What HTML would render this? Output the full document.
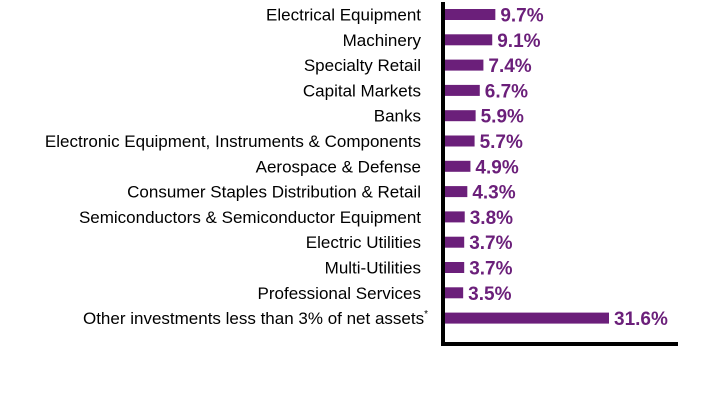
<!DOCTYPE html>
<html><head><meta charset="utf-8"><style>
body{margin:0;background:#fff;}
svg text{font-family:"Liberation Sans",Arial,sans-serif;}
</style></head><body>
<svg id="chart" width="708" height="408" xmlns="http://www.w3.org/2000/svg">
<g id="bars"></g>
<rect x="441" y="2" width="4" height="343" fill="#000"/>
<rect x="441" y="342" width="237" height="4" fill="#000"/>
</svg>
<script>
const categories=["Electrical Equipment","Machinery","Specialty Retail","Capital Markets","Banks","Electronic Equipment, Instruments & Components","Aerospace & Defense","Consumer Staples Distribution & Retail","Semiconductors & Semiconductor Equipment","Electric Utilities","Multi-Utilities","Professional Services","Other investments less than 3% of net assets"];
const values=[9.7,9.1,7.4,6.7,5.9,5.7,4.9,4.3,3.8,3.7,3.7,3.5,31.6];
const valueLabels=["9.7%","9.1%","7.4%","6.7%","5.9%","5.7%","4.9%","4.3%","3.8%","3.7%","3.7%","3.5%","31.6%"];
const x0=445, pxPer=5.19, y0=14.5, step=25.3, bh=11;
const xs=v=>x0+v*pxPer;
const ys=i=>y0+i*step;
const g=document.getElementById('bars');
const NS="http://www.w3.org/2000/svg";
categories.forEach((c,i)=>{
  const cy=ys(i);
  const r=document.createElementNS(NS,'rect');
  
  
  r.setAttribute('x',x0);r.setAttribute('y',cy-bh/2);
  r.setAttribute('width',xs(values[i])-x0);r.setAttribute('height',bh);
  r.setAttribute('fill','#6B1F7A');
  g.appendChild(r);
  const t=document.createElementNS(NS,'text');
  
  
  t.setAttribute('x',421);t.setAttribute('y',cy+6);
  t.setAttribute('text-anchor','end');t.setAttribute('font-size','17');t.setAttribute('fill','#000');
  t.textContent=c;
  if(i===categories.length-1){
    const s=document.createElementNS(NS,'tspan');
    s.setAttribute('font-size','10');s.setAttribute('dy','-7');s.textContent='*';
    t.setAttribute('x',428);
    t.appendChild(s);
  }
  g.appendChild(t);
  const v=document.createElementNS(NS,'text');
  
  
  v.setAttribute('x',xs(values[i])+5);v.setAttribute('y',cy+7);
  v.setAttribute('font-size','19');v.setAttribute('font-weight','bold');v.setAttribute('fill','#6B1F7A');
  v.textContent=valueLabels[i];
  g.appendChild(v);
});
</script>
</body></html>
